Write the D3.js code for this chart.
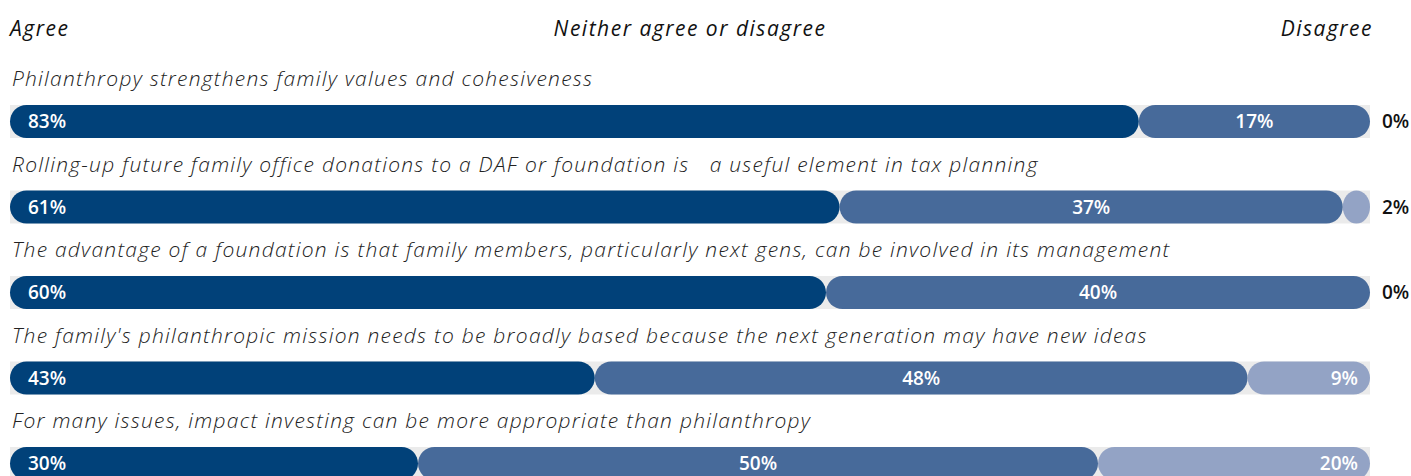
<!DOCTYPE html>
<html>
<head>
<meta charset="utf-8">
<script src="https://cdn.jsdelivr.net/npm/d3@7"></script>
<style>
  html, body { margin: 0; padding: 0; background: #fff; overflow: hidden; }
  svg { display: block; }
  text { font-family: "Open Sans", "Noto Sans", sans-serif; }
</style>
</head>
<body>
<svg id="chart" width="1411" height="476"></svg>
<script>
// Survey statements and response shares (%)
const statements = [
  "Philanthropy strengthens family values and cohesiveness",
  "Rolling-up future family office donations to a DAF or foundation is   a useful element in tax planning",
  "The advantage of a foundation is that family members, particularly next gens, can be involved in its management",
  "The family's philanthropic mission needs to be broadly based because the next generation may have new ideas",
  "For many issues, impact investing can be more appropriate than philanthropy"
];
const agree    = [83, 61, 60, 43, 30];
const neutral  = [17, 37, 40, 48, 50];
const disagree = [0, 2, 0, 9, 20];

const responseLabels = ["Agree", "Neither agree or disagree", "Disagree"];
const colors = ["#014179", "#476a9a", "#93a3c5"];
const trackColor = "#ebebeb";

const svg = d3.select("#chart");

const x = d3.scaleLinear().domain([0, 100]).range([10, 1370]);
const y = d3.scalePoint().domain(d3.range(statements.length)).range([105, 447]);
const barH = 33;

// Column headers
const header = svg.append("g")
  .attr("font-style", "italic").attr("font-size", 21)
  .attr("letter-spacing", 1.5).attr("fill", "#111");
header.append("text").attr("x", x(0)).attr("y", 36).text(responseLabels[0]);
header.append("text").attr("x", (x(0) + x(100)) / 2).attr("y", 36).attr("text-anchor", "middle").text(responseLabels[1]);
header.append("text").attr("x", x(100) + 3).attr("y", 36).attr("text-anchor", "end").text(responseLabels[2]);

const rows = statements.map((s, i) => {
  const vals = [agree[i], neutral[i], disagree[i]];
  let acc = 0;
  const segs = vals.map((v, k) => {
    const seg = { k, v, start: acc, end: acc + v };
    acc += v;
    return seg;
  });
  return { s, i, segs };
});

const row = svg.selectAll("g.row").data(rows).join("g").attr("class", "row")
  .attr("transform", d => `translate(0,${y(d.i)})`);

// Statement text
row.append("text")
  .attr("x", 12).attr("y", -19)
  .attr("font-style", "italic").attr("font-weight", 300).attr("font-size", 21)
  .attr("letter-spacing", 1.25)
  .attr("fill", "#222")
  .style("white-space", "pre")
  .text(d => d.s);

// Background track
row.append("rect")
  .attr("x", x(0)).attr("y", 0)
  .attr("width", x(100) - x(0)).attr("height", barH)
  .attr("fill", trackColor);

// Rounded segments
row.selectAll("rect.seg").data(d => d.segs.filter(s => s.v > 0)).join("rect")
  .attr("class", "seg")
  .attr("x", s => x(s.start)).attr("y", 0)
  .attr("width", s => x(s.end) - x(s.start)).attr("height", barH)
  .attr("rx", s => Math.min(barH / 2, (x(s.end) - x(s.start)) / 2))
  .attr("ry", barH / 2)
  .attr("fill", s => colors[s.k]);

// Value labels
row.selectAll("text.val").data(d => d.segs).join("text")
  .attr("class", "val")
  .attr("font-weight", 600).attr("font-size", 19)
  .attr("y", barH / 2).attr("dy", "0.36em")
  .each(function(s) {
    const t = d3.select(this).text(s.v + "%");
    if (s.k === 0) {
      t.attr("x", x(s.start) + 18).attr("fill", "#fff");
    } else if (s.k === 1) {
      t.attr("x", (x(s.start) + x(s.end)) / 2).attr("text-anchor", "middle").attr("fill", "#fff");
    } else if (s.v >= 5) {
      t.attr("x", x(s.end) - 12).attr("text-anchor", "end").attr("fill", "#fff");
    } else {
      t.attr("x", x(100) + 12).attr("fill", "#111");
    }
  });
</script>
</body>
</html>
